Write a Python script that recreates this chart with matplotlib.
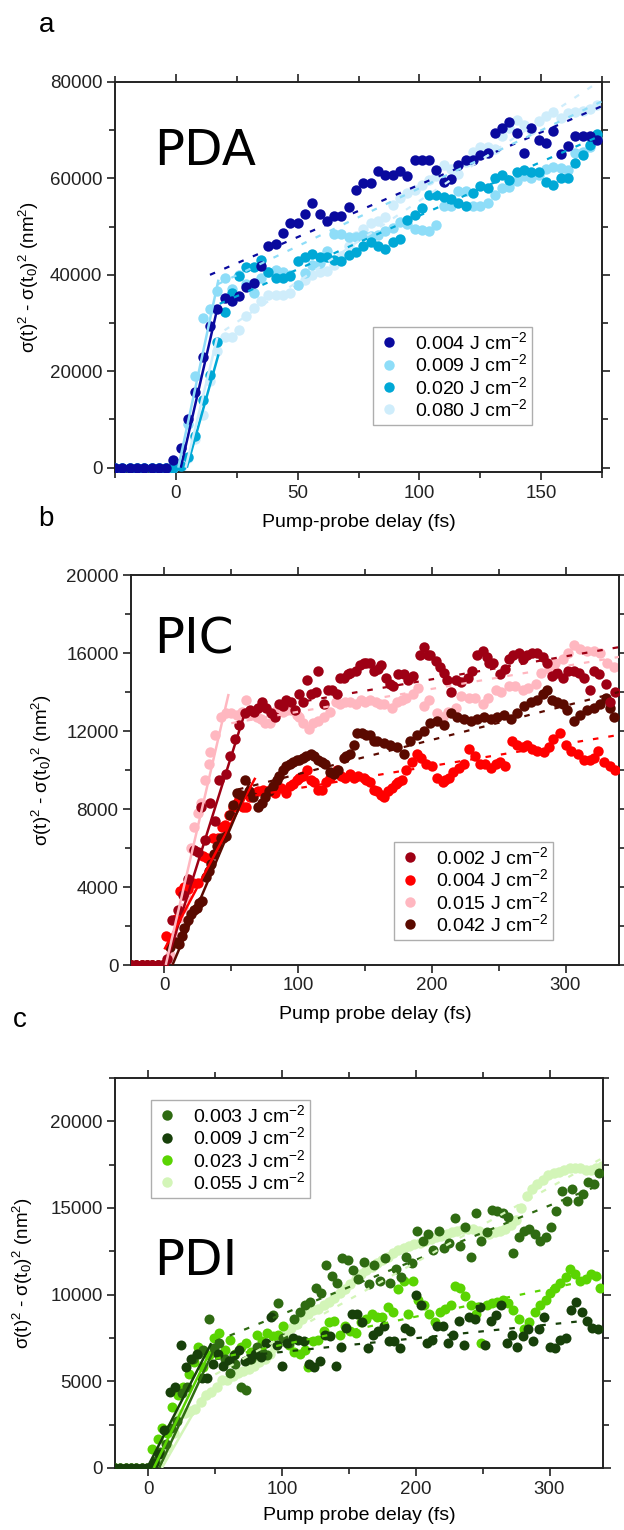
import numpy as np
import matplotlib
matplotlib.use('Agg')
import matplotlib.pyplot as plt
from matplotlib.ticker import MultipleLocator
from matplotlib.lines import Line2D

plt.rcParams['font.family'] = ['Liberation Sans', 'DejaVu Sans']
plt.rcParams['mathtext.fontset'] = 'custom'
plt.rcParams['mathtext.rm'] = 'Liberation Sans'
plt.rcParams['mathtext.it'] = 'Liberation Sans:italic'
plt.rcParams['mathtext.bf'] = 'Liberation Sans:bold'

# ---------------- Panel a : PDA ----------------
a_delay = np.arange(-25, 174, 3)
a_labels = ['0.004 J cm$^{-2}$', '0.009 J cm$^{-2}$', '0.020 J cm$^{-2}$', '0.080 J cm$^{-2}$']
a_colors = ['#0A0A9E', '#8EDDF8', '#00A8D6', '#CFEDFB']
a_004 = [0, 0, 0, 0, 0, 0, 0, 0,
         1600, 4000, 10100, 15700, 23000, 29300, 32900, 35100, 34600, 35700,
         37400, 38300, 41800, 45900, 46300, 48600, 50800, 50800, 52600, 54900,
         52600, 51100, 52200, 52200, 54000, 57700, 59100, 59100, 61600, 60700,
         60700, 61600, 60400, 63800, 63800, 63800, 61800, 59300, 59800, 62800,
         63900, 63900, 64800, 65200, 69500, 70400, 71700, 69500, 65200, 70400,
         68000, 67300, 69800, 65000, 66700, 68700, 68700, 68700, 68000]
a_009 = [0, 0, 0, 0, 0, 0, 0, 0,
         0, 1000, 9000, 19000, 31000, 33000, 36600, 39300, 37000, 40000,
         38000, 36200, 39300, 40500, 41000, 40500, 40000, 37900, 40300, 42100,
         42500, 45000, 48500, 48500, 47900, 47900, 48300, 48000, 48300, 49000,
         49700, 51000, 50500, 49500, 49300, 49000, 50400, 54200, 54200, 57300,
         57300, 54200, 54300, 54900, 56600, 58000, 58300, 59500, 60400, 60000,
         60800, 62000, 62400, 62100, 61800, 65200, 65500, 66600, 68300]
a_020 = [0, 0, 0, 0, 0, 0, 0, 0,
         0, 300, 2300, 6500, 14100, 19300, 26000, 32300, 36200, 39700,
         41700, 41700, 43100, 40500, 39300, 39300, 39800, 42800, 43800, 44300,
         43800, 43800, 43100, 42800, 44100, 44800, 45900, 46900, 45900, 45300,
         46900, 47400, 51400, 52400, 53800, 56600, 56600, 56200, 55700, 55000,
         54300, 56900, 58400, 58000, 60000, 60700, 59700, 61400, 61800, 61400,
         61400, 59300, 58600, 60000, 60000, 63300, 64900, 66900, 69200]
a_080 = [0, 0, 0, 0, 0, 0, 0, 0,
         0, 0, 2000, 6000, 11000, 18000, 24100, 27200, 27200, 28600,
         31400, 33100, 34500, 35900, 35900, 35900, 36200, 37900, 39000, 40000,
         40500, 40700, 42100, 44000, 46000, 48000, 49500, 50700, 51100, 52000,
         54500, 55900, 56900, 57600, 58700, 59700, 60500, 62800, 62000, 61000,
         63500, 65500, 66600, 66600, 66000, 68700, 70500, 72100, 71000, 70000,
         72000, 73000, 73800, 72500, 73500, 73800, 74000, 74500, 75200]
# fit lines (start, end) as (delay, value)
a_rise = [((2, 0), (17, 33000)), ((1, 0), (17.5, 39000)),
          ((4.5, 0), (17.5, 23500)), ((4, 0), (17, 27000))]
a_slow = [((14, 40000), (175, 75000)), ((17, 38000), (175, 76000)),
          ((18, 34000), (175, 69000)), ((20, 28500), (175, 80500))]

# ---------------- Panel b : PIC ----------------
b_labels = ['0.002 J cm$^{-2}$', '0.004 J cm$^{-2}$', '0.015 J cm$^{-2}$', '0.042 J cm$^{-2}$']
b_colors = ['#9E0014', '#FF0000', '#FFB7C0', '#5A0A00']
b_002 = [(-25, 0), (-21, 0), (-17, 0), (-13, 0), (-9, 0), (-5, 0), (-1, 0),
         (2, 300), (6, 2300), (10, 2800), (14, 3600), (18, 4400), (22, 5900), (25, 5800),
         (27, 8100), (30, 6400), (34, 8300), (38, 7400), (41, 9500), (46, 9800), (49, 10700),
         (53, 11600), (56, 12300), (60, 12900), (64, 13100), (67, 13000), (70, 13200),
         (73, 13500), (76, 13200), (80, 12900), (83, 12700), (86, 13400), (89, 13300),
         (91, 13600), (95, 13500), (98, 13100), (101, 13900), (104, 13500), (107, 14600),
         (110, 13900), (113, 14000), (115, 15100), (119, 13400), (122, 14100), (125, 14100),
         (129, 13900), (131, 14700), (134, 14700), (137, 14900), (139, 15000), (143, 15100),
         (146, 15400), (149, 15500), (151, 15500), (154, 15500), (157, 15100), (160, 15200),
         (162, 15400), (166, 14700), (169, 14400), (171, 14300), (175, 14900), (179, 14900),
         (182, 14600), (186, 14800), (191, 15900), (194, 16300), (197, 15900), (199, 15900),
         (203, 15600), (206, 15300), (209, 15000), (211, 14600), (214, 14000), (218, 14600),
         (222, 14500), (227, 14700), (230, 15100), (234, 15900), (238, 16100), (241, 15800),
         (243, 15500), (246, 15500), (251, 14900), (255, 15200), (258, 15700), (261, 15900),
         (265, 16000), (268, 15700), (271, 15900), (275, 16000), (279, 16000), (283, 15800),
         (286, 15500), (290, 14800), (294, 15000), (298, 14700), (302, 15100), (306, 15100),
         (310, 15000), (314, 14700), (318, 14100), (321, 15100), (325, 14900), (330, 14400),
         (333, 13500), (337, 14000)]
b_004 = [(-25, 0), (-21, 0), (-17, 0), (-13, 0), (-9, 0), (-5, 0), (-1, 0),
         (1, 1500), (5, 1100), (9, 2350), (12, 3800), (15, 4000), (18, 3900), (21, 4200),
         (25, 4200), (29, 5600), (32, 5500), (36, 6500), (40, 6500), (43, 7100), (45, 7200),
         (48, 7700), (51, 8100), (54, 8300), (56, 8500), (59, 8100), (61, 8100), (64, 8600),
         (66, 8800), (70, 8900), (74, 9000), (79, 9000), (83, 8800), (87, 9100), (91, 8800),
         (94, 9200), (96, 9300), (99, 9500), (101, 9600), (104, 9700), (107, 10000),
         (110, 9500), (112, 9400), (115, 9000), (118, 9000), (121, 9400), (124, 9600),
         (126, 9800), (129, 10000), (132, 9700), (135, 9600), (139, 9800), (142, 9600),
         (145, 9700), (149, 9600), (151, 9500), (154, 9400), (157, 9000), (159, 8900),
         (162, 8700), (164, 8600), (167, 8900), (170, 9100), (173, 9300), (175, 9400),
         (178, 9500), (181, 10000), (185, 10400), (189, 10800), (192, 10600), (196, 10300),
         (200, 10200), (204, 9600), (208, 9400), (210, 9500), (213, 9600), (216, 9900),
         (220, 10100), (224, 10300), (228, 11100), (232, 10700), (236, 10300), (240, 10300),
         (244, 10100), (248, 10300), (251, 10400), (255, 10200), (260, 11500), (264, 11300),
         (268, 11200), (271, 11300), (275, 11100), (279, 11000), (284, 10900), (288, 11200),
         (291, 11600), (296, 11900), (300, 11300), (304, 11000), (309, 10800), (314, 10500),
         (318, 10500), (321, 10600), (324, 11000), (329, 10400), (333, 10200), (337, 10000)]
b_015 = [(-25, 0), (-21, 0), (-17, 0), (-13, 0), (-9, 0), (-5, 0), (-1, 0),
         (2, 200), (4, 500), (8, 1500), (11, 2400), (14, 2900), (16, 3500), (18, 4200),
         (20, 6000), (22, 7100), (25, 7800), (27, 8300), (30, 9500), (33, 10300), (34, 10900),
         (38, 11800), (42, 12700), (46, 12900), (50, 12900), (54, 12800), (58, 13000),
         (61, 13600), (65, 12800), (69, 12700), (72, 12600), (75, 12400), (79, 12400),
         (82, 12900), (84, 13100), (89, 13000), (92, 13100), (95, 13100), (99, 12800),
         (101, 12700), (104, 12400), (108, 12100), (111, 12400), (115, 12500), (119, 12700),
         (124, 13000), (128, 13500), (131, 13400), (135, 13500), (139, 13500), (143, 13400),
         (147, 13600), (150, 13500), (154, 13600), (158, 13500), (161, 13400), (164, 13400),
         (170, 13200), (174, 13500), (178, 13600), (181, 13700), (186, 13900), (190, 14200),
         (194, 13300), (198, 13600), (204, 12900), (208, 12700), (212, 13000), (218, 13200),
         (222, 13800), (228, 13700), (232, 13700), (238, 13400), (242, 13700), (248, 14100),
         (252, 14000), (258, 14300), (262, 14300), (268, 14100), (272, 14200), (278, 14400),
         (282, 15000), (288, 15200), (292, 15500), (298, 15700), (302, 16000), (306, 16400),
         (311, 16200), (316, 16100), (321, 16100), (326, 16000), (331, 15500), (336, 15300)]
b_042 = [(-25, 0), (-21, 0), (-17, 0), (-13, 0), (-9, 0), (-5, 0), (-1, 0),
         (4, 900), (8, 1200), (11, 1100), (13, 1500), (15, 1900), (18, 2300), (20, 2600),
         (22, 2800), (24, 2900), (26, 3200), (28, 3300), (31, 4500), (33, 4800), (35, 5200),
         (37, 5700), (39, 6100), (42, 6500), (44, 6500), (46, 6600), (49, 7700), (51, 8200),
         (54, 8800), (57, 8700), (60, 9500), (63, 8900), (66, 8600), (70, 8100), (73, 8300),
         (75, 8600), (78, 8900), (81, 9200), (84, 9500), (86, 9700), (89, 10000), (91, 10200),
         (94, 10300), (96, 10400), (99, 10500), (101, 10500), (104, 10600), (106, 10700),
         (110, 10800), (112, 10700), (115, 10500), (118, 10400), (120, 10300), (124, 9900),
         (127, 9800), (130, 10000), (134, 10600), (136, 10700), (139, 10800), (142, 11300),
         (144, 11900), (148, 11900), (151, 11800), (154, 11800), (157, 11500), (159, 11500),
         (164, 11400), (169, 11300), (174, 11200), (179, 10800), (184, 11500), (189, 11800),
         (194, 12000), (199, 12400), (204, 12500), (209, 12300), (214, 12900), (219, 12700),
         (224, 12600), (229, 12500), (234, 12600), (239, 12700), (244, 12600), (249, 12700),
         (254, 12800), (259, 12600), (264, 12900), (269, 13300), (274, 13500), (279, 13600),
         (283, 13900), (286, 14100), (290, 13600), (294, 13500), (298, 13400), (301, 13100),
         (306, 12500), (311, 12800), (316, 13100), (321, 13200), (326, 13400), (330, 13700),
         (333, 13200), (336, 12700)]
b_rise = [((1, 0), (60, 12900)), ((0, 800), (68, 9600)),
          ((1, 0), (48, 13900)), ((6, 0), (64, 9400))]
b_slow = [((60, 13000), (340, 16300)), ((68, 8700), (340, 11800)),
          ((50, 12400), (340, 15800)), ((55, 9000), (340, 14000))]

# ---------------- Panel c : PDI ----------------
c_labels = ['0.003 J cm$^{-2}$', '0.009 J cm$^{-2}$', '0.023 J cm$^{-2}$', '0.055 J cm$^{-2}$']
c_colors = ['#2F6B12', '#17400A', '#5AD402', '#D3F5B8']
c_003 = [(-25, 0), (-21, 0), (-17, 0), (-13, 0), (-9, 0), (-5, 0), (-1, 0),
         (5, 400), (9, 900), (13, 1400), (17, 2300), (21, 2700), (25, 4300), (29, 4700),
         (33, 6300), (37, 6600), (41, 6800), (45, 8600), (49, 6900), (53, 7200), (57, 6300),
         (61, 5500), (65, 6000), (69, 4700), (73, 4500), (77, 6300), (81, 7000), (85, 6700),
         (89, 6500), (93, 8800), (97, 9500), (101, 7500), (105, 7200), (109, 8600), (113, 9000),
         (117, 9400), (121, 9600), (125, 10400), (129, 10100), (133, 11700), (137, 11100),
         (141, 10700), (145, 12100), (149, 12000), (153, 11400), (157, 10900), (161, 11900),
         (165, 10600), (169, 11700), (173, 10800), (177, 12100), (181, 10700), (185, 11500),
         (189, 11000), (193, 12200), (197, 11800), (201, 13700), (205, 13100), (209, 13500),
         (213, 12600), (217, 13700), (221, 12700), (225, 13000), (229, 14400), (233, 12800),
         (237, 13900), (241, 12200), (245, 14700), (249, 13100), (253, 13600), (257, 14900),
         (261, 14800), (265, 14700), (269, 14500), (273, 12400), (277, 13300), (281, 13700),
         (285, 13800), (289, 13500), (293, 13100), (297, 13300), (301, 13900), (305, 14800),
         (309, 16000), (313, 15400), (317, 16100), (321, 15400), (325, 15800), (329, 16500),
         (333, 16400), (337, 17000)]
c_009 = [(-25, 0), (-21, 0), (-17, 0), (-13, 0), (-9, 0), (-5, 0), (-1, 0),
         (4, 300), (8, 800), (12, 2200), (16, 4400), (20, 4700), (24, 7100), (28, 5800),
         (32, 6300), (36, 6600), (40, 5200), (44, 5200), (48, 6000), (52, 6600), (56, 5900),
         (60, 6200), (64, 6500), (68, 6800), (72, 6200), (76, 6300), (80, 6600), (84, 6400),
         (88, 7200), (92, 8700), (96, 7100), (100, 5900), (104, 7200), (108, 7500), (112, 7400),
         (116, 7300), (120, 6000), (124, 5800), (128, 6200), (132, 7700), (136, 7600),
         (140, 5900), (144, 7000), (148, 8100), (152, 8900), (156, 8900), (160, 8400),
         (164, 6900), (168, 7700), (172, 7900), (176, 8200), (180, 7300), (184, 7300),
         (188, 6900), (192, 8100), (196, 7900), (200, 10000), (204, 9400), (208, 7200),
         (212, 7400), (216, 8200), (220, 8200), (224, 7200), (228, 7700), (232, 8500),
         (236, 7100), (240, 8700), (244, 8600), (248, 9300), (252, 7100), (256, 8500),
         (260, 8800), (264, 9400), (268, 7200), (272, 7700), (276, 7000), (280, 7600),
         (284, 8000), (288, 7300), (292, 8000), (296, 8700), (300, 7000), (304, 6900),
         (308, 7400), (312, 7500), (316, 9100), (320, 9600), (324, 9000), (328, 8500),
         (332, 8100), (336, 8000)]
c_023 = [(-25, 0), (-21, 0), (-17, 0), (-13, 0), (-9, 0), (-5, 0), (-1, 0),
         (3, 1100), (7, 1700), (10, 2300), (14, 2000), (18, 3500), (22, 4200), (26, 4700),
         (30, 5400), (34, 6100), (37, 7000), (41, 5800), (45, 6500), (49, 7500), (53, 7800),
         (57, 6800), (61, 7400), (65, 6600), (69, 7000), (73, 7200), (77, 6700), (81, 7700),
         (85, 7300), (89, 7800), (93, 7600), (97, 7700), (101, 8200), (105, 7100), (109, 6700),
         (113, 6600), (117, 6800), (119, 5800), (123, 7300), (127, 7400), (131, 7900),
         (135, 8400), (139, 8500), (143, 7700), (147, 8200), (151, 7900), (155, 7800),
         (159, 8400), (163, 8600), (167, 8900), (171, 8700), (175, 8700), (179, 9300),
         (183, 9000), (187, 10300), (191, 10800), (194, 8900), (198, 10800), (202, 9700),
         (206, 9400), (210, 8900), (214, 8400), (218, 9000), (222, 9200), (226, 9400),
         (229, 10500), (233, 10400), (237, 9900), (241, 9400), (245, 8900), (249, 7200),
         (253, 9400), (257, 9500), (261, 9600), (265, 9700), (269, 9500), (273, 9100),
         (277, 8600), (281, 8000), (285, 8400), (289, 9000), (293, 9400), (297, 9700),
         (300, 10100), (304, 10400), (308, 10700), (312, 11000), (315, 11500), (319, 11200),
         (323, 10800), (327, 10900), (331, 11200), (335, 11100), (338, 10400)]
c_055_delay = np.arange(-25, 340, 4)
c_055 = [0, 0, 0, 0, 0, 0, 0,
         0, 200, 700, 1200, 2000, 3100, 3200, 3300, 3400, 3800,
         4200, 4400, 4700, 5100, 5100, 5300, 5500, 5600, 5700, 5900,
         6100, 6300, 6600, 7000, 7300, 7800, 8100, 8300, 8600, 8900,
         9100, 9200, 9400, 9600, 9800, 10100, 10300, 10600, 10900, 11200,
         11400, 11600, 11800, 12000, 12200, 12400, 12600, 12700, 12800, 12900,
         13000, 13100, 13200, 13300, 13400, 13500, 13600, 13700, 13800, 13800,
         13800, 13700, 13500, 13500, 13600, 13700, 13800, 14000, 14300, 15000,
         15700, 16100, 16400, 16600, 16900, 17000, 17100, 17200, 17300, 17300,
         17300, 17200, 17200, 17300, 17400]
c_rise = [((8, 0), (50, 7000)), ((-1, 0), (47, 7200)),
          ((4, 0), (46, 6700)), ((10, 0), (42, 4300))]
c_slow = [((50, 7300), (340, 16400)), ((50, 6300), (340, 8600)),
          ((50, 6300), (340, 11000)), ((50, 5400), (340, 17900))]

# ---------------- figure ----------------
W, H = 624, 1530
fig = plt.figure(figsize=(W / 100, H / 100), dpi=100)


def px_axes(l, t, r, b):
    return fig.add_axes([l / W, 1 - b / H, (r - l) / W, (b - t) / H])


def style(ax, xlim, ylim, xmaj, xmin, ymaj, ymin):
    ax.set_xlim(*xlim)
    ax.set_ylim(*ylim)
    ax.xaxis.set_major_locator(MultipleLocator(xmaj))
    ax.xaxis.set_minor_locator(MultipleLocator(xmin))
    ax.yaxis.set_major_locator(MultipleLocator(ymaj))
    ax.yaxis.set_minor_locator(MultipleLocator(ymin))
    ax.tick_params(which='both', direction='out', top=True, right=True,
                   labeltop=False, labelright=False, width=1.2, colors='#222222')
    ax.tick_params(which='major', length=6, labelsize=13.5, pad=3)
    ax.tick_params(which='minor', length=4)
    for s in ax.spines.values():
        s.set_linewidth(1.4)
        s.set_color('#222222')


def draw_series(ax, t, y, color, ms, z):
    ax.plot(t, y, ls='none', marker='o', ms=ms, color=color, mec='none', zorder=z)


def draw_fits(ax, rises, slows, colors):
    for (p0, p1), c in zip(rises, colors):
        ax.plot([p0[0], p1[0]], [p0[1], p1[1]], color=c, lw=1.8, zorder=10,
                solid_capstyle='butt')
    for (p0, p1), c in zip(slows, colors):
        ax.plot([p0[0], p1[0]], [p0[1], p1[1]], color=c, lw=1.6, zorder=10,
                ls=(0, (2.5, 4.5)), dash_capstyle='butt')


def legend(ax, labels, colors, ms, x0, y0):
    hs = [Line2D([], [], ls='none', marker='o', ms=ms, color=c, mec='none') for c in colors]
    leg = ax.legend(hs, labels, loc='lower left', bbox_to_anchor=(x0, y0),
                    borderaxespad=0, frameon=True, fancybox=False, edgecolor='#9a9a9a',
                    fontsize=14, handlelength=1.1, handletextpad=0.8,
                    labelspacing=0.02, borderpad=0.25, numpoints=1)
    leg.get_frame().set_linewidth(1.0)
    leg.set_zorder(20)


ylab = 'σ(t)$^2$ - σ(t$_0$)$^2$ (nm$^2$)'

# panel a
axa = px_axes(115, 82, 602, 472)
style(axa, (-25, 175), (-900, 80000), 50, 25, 20000, 10000)
order_a = [3, 1, 2, 0]
series_a = [a_004, a_009, a_020, a_080]
for z, i in enumerate(order_a):
    draw_series(axa, a_delay, series_a[i], a_colors[i], 7.5, 2 + z)
draw_fits(axa, a_rise, a_slow, a_colors)
legend(axa, a_labels, a_colors, 7.5, (373 - 115) / 487, (472 - 425) / 390)
axa.set_xlabel('Pump-probe delay (fs)', fontsize=14)
axa.xaxis.set_label_coords(0.5, -0.108)
axa.set_ylabel(ylab, fontsize=13.5)
axa.yaxis.set_label_coords(-0.152, 0.5)

# panel b
axb = px_axes(131, 575, 619, 965)
style(axb, (-25, 340), (0, 20000), 100, 50, 4000, 2000)
order_b = [2, 1, 3, 0]
series_b = [b_002, b_004, b_015, b_042]
for z, i in enumerate(order_b):
    tt, yy = zip(*series_b[i])
    draw_series(axb, tt, yy, b_colors[i], 7.5, 2 + z)
draw_fits(axb, b_rise, b_slow, b_colors)
legend(axb, b_labels, b_colors, 7.5, (394 - 131) / 488, (965 - 940) / 390)
axb.set_xlabel('Pump probe delay (fs)', fontsize=14)
axb.xaxis.set_label_coords(0.5, -0.106)
axb.set_ylabel(ylab, fontsize=13.5)
axb.yaxis.set_label_coords(-0.158, 0.5)

# panel c
axc = px_axes(115, 1078, 603, 1468)
style(axc, (-25, 340), (0, 22500), 100, 50, 5000, 2500)
draw_series(axc, c_055_delay, c_055, c_colors[3], 7.5, 2)
for z, i in enumerate([2, 0, 1]):
    tt, yy = zip(*[c_003, c_009, c_023][i])
    draw_series(axc, tt, yy, c_colors[i], 7.2, 3 + z)
draw_fits(axc, c_rise, c_slow, c_colors)
legend(axc, c_labels, c_colors, 7.5, (151 - 115) / 488, (1468 - 1198) / 390)
axc.set_xlabel('Pump probe delay (fs)', fontsize=14)
axc.xaxis.set_label_coords(0.5, -0.1)
axc.set_ylabel(ylab, fontsize=13.5)
axc.yaxis.set_label_coords(-0.164, 0.5)

# big sample names
for name, x, yb in [('PDA', 154, 165), ('PIC', 154, 653), ('PDI', 154, 1275)]:
    fig.text(x / W, 1 - yb / H, name, fontsize=36, family='DejaVu Sans',
             ha='left', va='baseline', color='black')

# panel letters
for letter, x, yb in [('a', 39, 32), ('b', 38, 526), ('c', 13, 1027)]:
    fig.text(x / W, 1 - yb / H, letter, fontsize=20, ha='left', va='baseline')

fig.savefig('out.png', dpi=100)
